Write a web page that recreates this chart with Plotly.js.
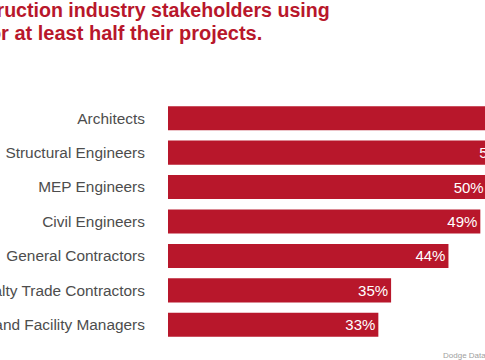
<!DOCTYPE html>
<html>
<head>
<meta charset="utf-8">
<script src="https://cdn.plot.ly/plotly-3.0.1.min.js"></script>
<style>
  html, body { margin: 0; padding: 0; overflow: hidden; background: #fff; }
  #chart { width: 560px; height: 360px; }
</style>
</head>
<body>
<div id="chart"></div>
<script>
const categories = [
  "Architects",
  "Structural Engineers",
  "MEP Engineers",
  "Civil Engineers",
  "General Contractors",
  "Specialty Trade Contractors",
  "Owners and Facility Managers"
];
const shareValues = [62, 54, 50, 49, 44, 35, 33];
const valueLabels = shareValues.map(v => v + "%");
const titleLine1 = "Construction industry stakeholders using";
const titleLine2 = "BIM for at least half their projects.";
const sourceText = "Dodge Data & Analytics";

const red = "#b8172b";
const font = "Liberation Sans, Arial, Helvetica, sans-serif";

const trace = {
  type: "bar",
  orientation: "h",
  x: shareValues,
  y: categories,
  text: valueLabels,
  textposition: "inside",
  insidetextanchor: "end",
  textangle: 0,
  textfont: { family: font, size: 15, color: "#ffffff" },
  marker: { color: red, line: { width: 0 } },
  hoverinfo: "none"
};

const layout = {
  width: 560,
  height: 360,
  margin: { l: 168, r: 0, t: 101, b: 18 },
  paper_bgcolor: "#ffffff",
  plot_bgcolor: "#ffffff",
  bargap: 0.3,
  showlegend: false,
  xaxis: {
    range: [0, 61.5],
    showgrid: false,
    zeroline: false,
    showticklabels: false,
    showline: false,
    ticks: ""
  },
  yaxis: {
    autorange: "reversed",
    showgrid: false,
    zeroline: false,
    showline: false,
    ticks: "outside",
    ticklen: 19,
    tickcolor: "rgba(0,0,0,0)",
    tickfont: { family: font, size: 15.4, color: "#4d4d4d" }
  },
  annotations: [
    {
      xref: "paper", yref: "paper",
      x: -0.585, y: 1.376, xanchor: "left", yanchor: "middle",
      text: titleLine1, showarrow: false, align: "left",
      font: { family: font, size: 19.6, color: red, weight: "bold" }
    },
    {
      xref: "paper", yref: "paper",
      x: -0.588, y: 1.281, xanchor: "left", yanchor: "middle",
      text: titleLine2, showarrow: false, align: "left",
      font: { family: font, size: 20, color: red, weight: "bold" }
    },
    {
      xref: "paper", yref: "paper",
      x: 0.696, y: -0.055, xanchor: "left", yanchor: "middle",
      text: sourceText, showarrow: false, align: "left",
      font: { family: font, size: 8, color: "#a0a0a0" }
    }
  ]
};

Plotly.newPlot("chart", [trace], layout, { displayModeBar: false, staticPlot: true });
</script>
</body>
</html>
